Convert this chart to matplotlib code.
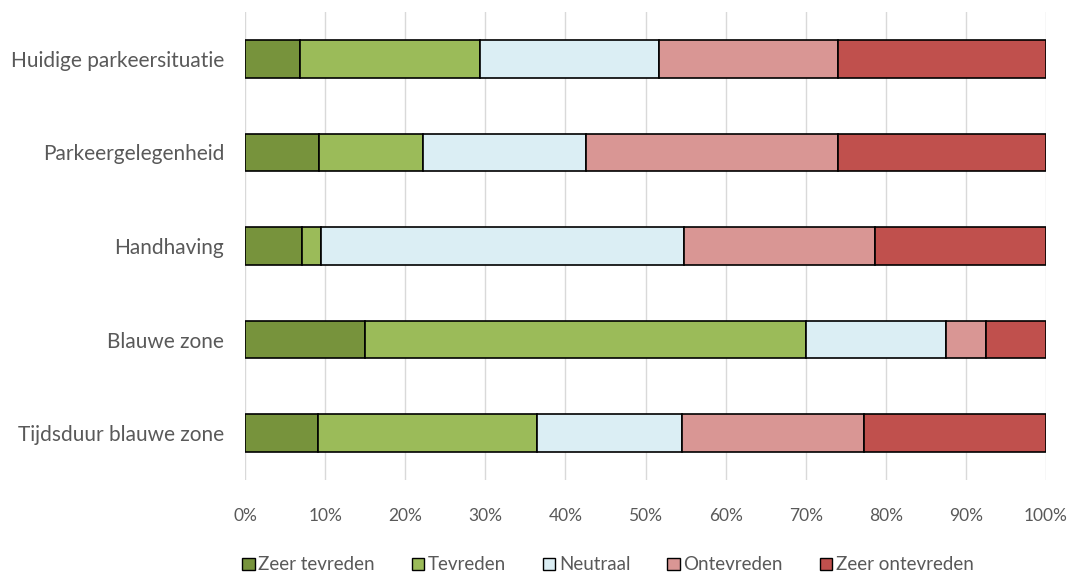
import numpy as np
import matplotlib
matplotlib.use('Agg')
import matplotlib.pyplot as plt
from matplotlib.ticker import PercentFormatter

# ---- data (percentages per category) ----
vragen = ['Huidige parkeersituatie', 'Parkeergelegenheid', 'Handhaving',
          'Blauwe zone', 'Tijdsduur blauwe zone']
zeer_tevreden = [6.9, 9.2, 7.1, 15.0, 9.1]
tevreden = [22.4, 13.0, 2.4, 55.0, 27.3]
neutraal = [22.4, 20.4, 45.3, 17.5, 18.2]
ontevreden = [22.3, 31.4, 23.9, 5.0, 22.7]
zeer_ontevreden = [26.0, 26.0, 21.3, 7.5, 22.7]

labels = ['Zeer tevreden', 'Tevreden', 'Neutraal', 'Ontevreden', 'Zeer ontevreden']
kleuren = ['#77933C', '#9BBB59', '#DBEEF4', '#D99694', '#C0504D']

plt.rcParams['font.family'] = ['Lato', 'DejaVu Sans']

fig = plt.figure(figsize=(10.75, 5.76), dpi=100)
ax = fig.add_axes([245/1075, 1-480/576, (1046-245)/1075, (480-12)/576])

y = np.arange(len(vragen))
links = np.zeros(len(vragen))
for waarden, lab, kl in zip([zeer_tevreden, tevreden, neutraal, ontevreden, zeer_ontevreden],
                            labels, kleuren):
    ax.barh(y, waarden, left=links, height=0.4, color=kl, edgecolor='black',
            linewidth=1.2, label=lab, zorder=3)
    links = links + np.array(waarden)

ax.set_ylim(4.5, -0.5)
ax.set_xlim(0, 100)
ax.set_xticks(np.arange(0, 101, 10))
ax.xaxis.set_major_formatter(PercentFormatter(decimals=0))
ax.set_yticks(y)
ax.set_yticklabels(vragen)
ax.grid(axis='x', color='#D9D9D9', linewidth=1, zorder=0)
for s in ax.spines.values():
    s.set_visible(False)
ax.tick_params(length=0, colors='#595959')
ax.tick_params(axis='y', pad=15, labelsize=15)
ax.tick_params(axis='x', pad=20, labelsize=12.5)

# legenda onderaan, net binnen de rand
leg = fig.legend(loc='center', bbox_to_anchor=(608/1075, 1-565/576), ncol=5,
                 frameon=False, fontsize=13.5, handlelength=0.65, handleheight=0.65,
                 handletextpad=0.2, columnspacing=1.97, labelcolor='#595959')
for h in leg.legend_handles:
    h.set_linewidth(1)

fig.savefig('out.png', dpi=100)
